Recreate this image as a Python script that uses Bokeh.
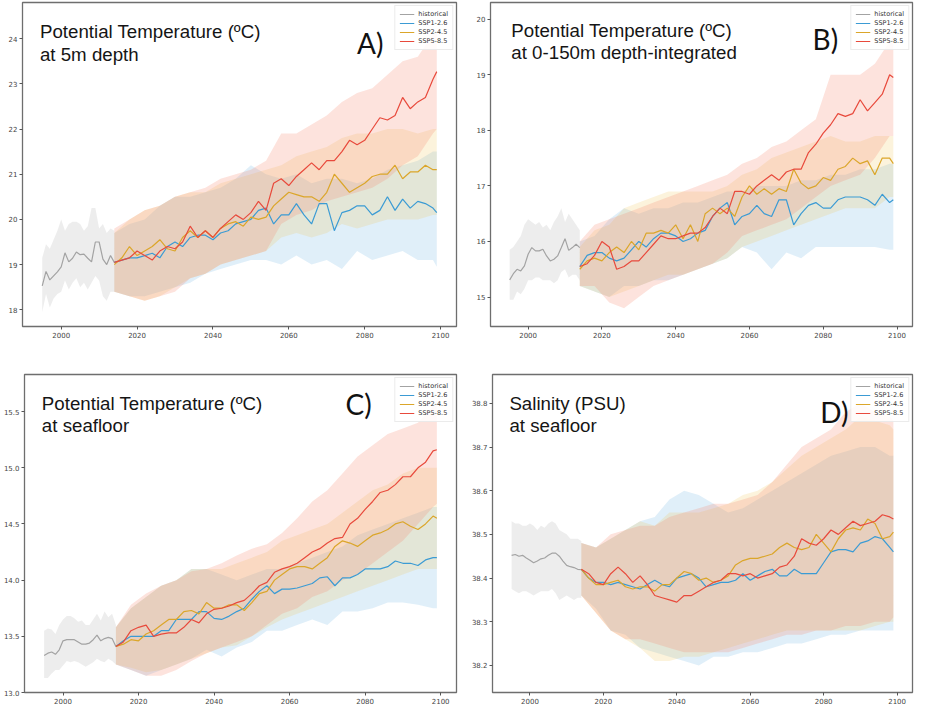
from bokeh.plotting import figure
from bokeh.models import Range1d, FixedTicker, Label, Legend, LegendItem, NumeralTickFormatter
from bokeh.layouts import column, row
from bokeh.embed import file_html
from bokeh.resources import INLINE

# ---------------- data ----------------
YEARS_HIST = list(range(1995, 2015))
YEARS_LINE = list(range(2014, 2099, 2)) + [2099]
YEARS_BAND = list(range(2014, 2099, 4)) + [2099]
X_TICKS = [2000, 2020, 2040, 2060, 2080, 2100]
SCENARIOS = ["SSP1-2.6", "SSP2-4.5", "SSP5-8.5"]

# Panel A: potential temperature at 5 m
A_hist = [18.53, 18.85, 18.66, 18.75, 18.84, 18.95, 19.26, 19.06, 19.14, 19.28, 19.22, 19.23, 19.14, 19.06, 19.50, 19.50, 19.12, 19.00, 19.20, 19.05]
A_hist_lo = [17.95, 18.35, 18.05, 18.25, 18.35, 18.40, 18.65, 18.45, 18.60, 18.70, 18.50, 18.60, 18.45, 18.60, 18.75, 18.65, 18.30, 18.20, 18.40, 18.40]
A_hist_hi = [19.15, 19.45, 19.35, 19.55, 19.75, 20.00, 19.75, 19.90, 19.95, 19.95, 19.90, 19.75, 19.85, 20.25, 20.25, 19.80, 19.90, 19.70, 19.80, 19.75]
A_126 = [19.05, 19.10, 19.15, 19.15, 19.20, 19.25, 19.15, 19.40, 19.50, 19.40, 19.60, 19.65, 19.65, 19.55, 19.70, 19.75, 19.90, 19.95, 20.00, 20.20, 20.25, 19.90, 20.10, 20.10, 20.35, 20.10, 19.90, 20.35, 20.35, 19.75, 20.15, 20.20, 20.30, 20.30, 20.10, 20.20, 20.50, 20.20, 20.45, 20.25, 20.40, 20.35, 20.25, 20.15]
A_245 = [19.00, 19.15, 19.40, 19.20, 19.30, 19.40, 19.55, 19.35, 19.30, 19.60, 19.75, 19.60, 19.75, 19.60, 19.80, 19.90, 19.95, 19.85, 20.05, 20.00, 20.05, 20.30, 20.45, 20.60, 20.55, 20.50, 20.50, 20.40, 20.60, 21.00, 20.80, 20.60, 20.70, 20.80, 20.95, 21.00, 21.00, 21.20, 20.90, 21.05, 21.05, 21.20, 21.10, 21.10]
A_585 = [19.05, 19.10, 19.15, 19.30, 19.20, 19.10, 19.30, 19.40, 19.35, 19.50, 19.85, 19.60, 19.75, 19.60, 19.80, 19.95, 20.10, 20.00, 20.15, 20.40, 20.20, 20.80, 20.90, 20.75, 20.95, 21.10, 21.25, 21.10, 21.30, 21.30, 21.50, 21.75, 21.65, 21.75, 22.00, 22.25, 22.20, 22.30, 22.70, 22.45, 22.60, 22.70, 23.10, 23.27]
A_126_lo = [18.40, 18.30, 18.30, 18.40, 18.50, 18.60, 18.80, 18.90, 19.00, 19.10, 19.10, 19.00, 19.20, 19.00, 19.10, 18.90, 19.30, 19.10, 19.20, 19.30, 19.10, 19.10, 18.95]
A_126_hi = [19.70, 19.90, 20.00, 20.30, 20.50, 20.50, 20.60, 20.70, 20.90, 21.20, 21.00, 20.90, 21.00, 20.80, 20.90, 20.90, 20.80, 20.90, 21.10, 21.20, 21.30, 21.50, 21.50]
A_245_lo = [18.40, 18.30, 18.20, 18.30, 18.50, 18.70, 18.80, 19.00, 19.10, 19.20, 19.30, 19.60, 19.70, 19.60, 19.70, 19.90, 19.80, 19.90, 20.00, 20.00, 20.00, 20.10, 20.10]
A_245_hi = [19.70, 20.00, 20.20, 20.30, 20.50, 20.60, 20.60, 20.80, 20.90, 21.00, 21.10, 21.20, 21.40, 21.50, 21.60, 21.80, 21.90, 21.90, 22.00, 22.00, 21.90, 22.00, 22.00]
A_585_lo = [18.40, 18.30, 18.20, 18.30, 18.40, 18.70, 18.80, 19.00, 19.10, 19.20, 19.30, 19.90, 20.10, 20.20, 20.40, 20.50, 20.60, 20.70, 20.90, 21.20, 21.40, 21.90, 22.00]
A_585_hi = [19.80, 20.00, 20.20, 20.30, 20.50, 20.60, 20.70, 20.90, 21.00, 21.10, 21.30, 21.90, 21.90, 22.10, 22.30, 22.60, 22.80, 22.90, 23.20, 23.50, 23.60, 24.10, 24.20]

# Panel B: potential temperature 0-150 m depth-integrated
B_hist = [15.31, 15.42, 15.50, 15.47, 15.56, 15.77, 15.89, 15.83, 15.83, 15.86, 15.74, 15.65, 15.68, 15.74, 15.89, 16.05, 15.84, 15.89, 15.95, 15.89]
B_hist_lo = [14.95, 14.95, 15.10, 15.05, 15.15, 15.30, 15.30, 15.35, 15.35, 15.30, 15.30, 15.30, 15.25, 15.30, 15.45, 15.50, 15.35, 15.40, 15.40, 15.30]
B_hist_hi = [15.85, 15.90, 16.00, 16.10, 16.30, 16.40, 16.35, 16.30, 16.35, 16.25, 16.30, 16.20, 16.35, 16.45, 16.60, 16.35, 16.50, 16.40, 16.30, 16.20]
B_126 = [15.55, 15.75, 15.80, 15.80, 15.70, 15.65, 15.70, 15.85, 16.00, 15.90, 16.05, 16.15, 16.15, 16.10, 16.00, 16.05, 16.15, 16.20, 16.45, 16.60, 16.70, 16.30, 16.45, 16.50, 16.65, 16.50, 16.45, 16.75, 16.75, 16.30, 16.50, 16.65, 16.70, 16.60, 16.60, 16.75, 16.80, 16.80, 16.80, 16.75, 16.65, 16.85, 16.70, 16.75]
B_245 = [15.50, 15.65, 15.70, 15.65, 15.80, 15.90, 15.80, 16.00, 15.85, 16.15, 16.15, 16.20, 16.15, 16.30, 16.05, 16.30, 16.00, 16.50, 16.60, 16.50, 16.60, 16.45, 16.80, 17.00, 16.85, 16.95, 16.85, 16.95, 16.90, 17.30, 17.05, 16.95, 17.00, 17.15, 17.10, 17.30, 17.35, 17.50, 17.40, 17.45, 17.20, 17.50, 17.50, 17.40]
B_585 = [15.55, 15.60, 15.75, 16.00, 15.90, 15.50, 15.55, 15.65, 15.65, 15.80, 15.95, 16.10, 16.05, 16.05, 16.10, 16.15, 16.15, 16.25, 16.45, 16.60, 16.50, 16.90, 16.90, 16.85, 17.00, 17.10, 17.20, 17.10, 17.25, 17.30, 17.30, 17.60, 17.75, 17.95, 18.10, 18.30, 18.25, 18.30, 18.55, 18.35, 18.50, 18.65, 19.00, 18.95]
B_126_lo = [15.20, 15.10, 15.00, 15.20, 15.20, 15.30, 15.30, 15.40, 15.50, 15.60, 15.70, 15.90, 15.80, 15.50, 15.80, 15.70, 15.90, 15.90, 15.90, 15.90, 15.90, 15.85, 15.85]
B_126_hi = [16.00, 16.10, 16.40, 16.60, 16.50, 16.60, 16.60, 16.70, 16.70, 16.80, 16.90, 16.90, 17.00, 17.00, 17.00, 17.10, 17.10, 17.20, 17.20, 17.30, 17.30, 17.40, 17.40]
B_245_lo = [15.20, 15.10, 15.00, 15.10, 15.20, 15.30, 15.40, 15.40, 15.50, 15.60, 15.70, 15.90, 16.00, 16.10, 16.20, 16.30, 16.40, 16.50, 16.60, 16.60, 16.60, 16.80, 16.80]
B_245_hi = [15.90, 16.20, 16.30, 16.60, 16.70, 16.80, 16.90, 16.90, 16.90, 16.90, 17.00, 17.20, 17.30, 17.50, 17.60, 17.70, 17.80, 17.90, 17.80, 17.80, 17.90, 17.90, 17.90]
B_585_lo = [15.20, 15.20, 14.90, 14.80, 15.00, 15.20, 15.30, 15.40, 15.50, 15.60, 15.80, 16.10, 16.20, 16.30, 16.40, 16.60, 16.80, 17.00, 17.10, 17.20, 17.50, 17.90, 17.90]
B_585_hi = [16.00, 16.30, 16.40, 16.50, 16.60, 16.70, 16.80, 16.90, 17.00, 17.10, 17.20, 17.40, 17.50, 17.70, 17.80, 18.00, 18.20, 19.00, 19.00, 19.00, 19.20, 19.60, 19.70]

# Panel C: potential temperature at seafloor
C_hist = [13.33, 13.35, 13.36, 13.34, 13.38, 13.46, 13.47, 13.47, 13.47, 13.45, 13.43, 13.43, 13.44, 13.47, 13.51, 13.46, 13.48, 13.49, 13.48, 13.41]
C_hist_lo = [13.13, 13.13, 13.17, 13.20, 13.20, 13.24, 13.28, 13.27, 13.28, 13.27, 13.25, 13.23, 13.25, 13.27, 13.30, 13.28, 13.27, 13.30, 13.28, 13.25]
C_hist_hi = [13.55, 13.57, 13.56, 13.52, 13.60, 13.65, 13.68, 13.68, 13.66, 13.63, 13.64, 13.60, 13.60, 13.65, 13.70, 13.64, 13.72, 13.67, 13.70, 13.60]
C_126 = [13.41, 13.46, 13.50, 13.50, 13.50, 13.50, 13.55, 13.55, 13.65, 13.65, 13.65, 13.72, 13.72, 13.66, 13.65, 13.68, 13.72, 13.75, 13.83, 13.90, 13.95, 13.88, 13.92, 13.92, 13.93, 13.95, 13.97, 14.02, 14.03, 13.95, 14.02, 14.02, 14.05, 14.10, 14.10, 14.10, 14.12, 14.17, 14.15, 14.15, 14.13, 14.18, 14.20, 14.20]
C_245 = [13.41, 13.43, 13.47, 13.46, 13.52, 13.55, 13.60, 13.65, 13.65, 13.72, 13.73, 13.70, 13.80, 13.75, 13.75, 13.78, 13.78, 13.73, 13.80, 13.88, 13.90, 14.00, 14.05, 14.10, 14.12, 14.12, 14.10, 14.15, 14.20, 14.30, 14.35, 14.33, 14.30, 14.35, 14.40, 14.42, 14.45, 14.50, 14.52, 14.48, 14.45, 14.50, 14.57, 14.55]
C_585 = [13.41, 13.45, 13.55, 13.58, 13.60, 13.50, 13.52, 13.53, 13.53, 13.58, 13.65, 13.62, 13.70, 13.74, 13.75, 13.77, 13.80, 13.82, 13.88, 13.95, 13.98, 14.07, 14.10, 14.12, 14.15, 14.20, 14.25, 14.28, 14.33, 14.37, 14.38, 14.50, 14.55, 14.63, 14.70, 14.78, 14.80, 14.85, 14.92, 14.92, 15.00, 15.05, 15.15, 15.16]
C_126_lo = [13.25, 13.20, 13.15, 13.20, 13.25, 13.30, 13.38, 13.32, 13.40, 13.45, 13.55, 13.55, 13.60, 13.65, 13.60, 13.72, 13.72, 13.75, 13.80, 13.80, 13.78, 13.75, 13.75]
C_126_hi = [13.58, 13.75, 13.85, 13.95, 14.00, 14.10, 14.10, 14.05, 14.00, 14.05, 14.10, 14.10, 14.15, 14.20, 14.25, 14.30, 14.40, 14.45, 14.50, 14.55, 14.60, 14.65, 14.65]
C_245_lo = [13.25, 13.22, 13.18, 13.20, 13.25, 13.30, 13.35, 13.40, 13.42, 13.50, 13.58, 13.65, 13.70, 13.75, 13.80, 13.85, 13.90, 13.95, 14.00, 14.05, 14.10, 14.10, 14.10]
C_245_hi = [13.58, 13.75, 13.85, 13.95, 14.00, 14.10, 14.10, 14.10, 14.15, 14.20, 14.25, 14.35, 14.40, 14.45, 14.50, 14.60, 14.70, 14.80, 14.85, 14.95, 15.00, 15.00, 15.00]
C_585_lo = [13.25, 13.20, 13.15, 13.15, 13.20, 13.28, 13.35, 13.40, 13.45, 13.50, 13.60, 13.70, 13.75, 13.85, 13.90, 14.00, 14.05, 14.15, 14.25, 14.35, 14.50, 14.65, 14.68]
C_585_hi = [13.58, 13.78, 13.88, 13.95, 14.00, 14.08, 14.10, 14.15, 14.22, 14.28, 14.32, 14.42, 14.55, 14.70, 14.80, 14.95, 15.10, 15.20, 15.30, 15.35, 15.40, 15.55, 15.60]

# Panel D: salinity at seafloor
D_hist = [38.452, 38.454, 38.450, 38.452, 38.446, 38.441, 38.435, 38.439, 38.444, 38.446, 38.452, 38.457, 38.457, 38.450, 38.439, 38.429, 38.426, 38.424, 38.420, 38.419]
D_hist_lo = [38.375, 38.370, 38.365, 38.370, 38.370, 38.365, 38.360, 38.365, 38.370, 38.370, 38.370, 38.375, 38.365, 38.350, 38.355, 38.360, 38.355, 38.350, 38.355, 38.355]
D_hist_hi = [38.530, 38.525, 38.525, 38.520, 38.520, 38.525, 38.520, 38.510, 38.520, 38.515, 38.525, 38.530, 38.525, 38.510, 38.505, 38.500, 38.490, 38.490, 38.490, 38.485]
D_126 = [38.420, 38.400, 38.390, 38.390, 38.385, 38.390, 38.385, 38.380, 38.375, 38.385, 38.395, 38.385, 38.380, 38.400, 38.405, 38.410, 38.400, 38.380, 38.385, 38.390, 38.390, 38.395, 38.410, 38.395, 38.405, 38.415, 38.420, 38.405, 38.405, 38.420, 38.410, 38.410, 38.410, 38.435, 38.460, 38.465, 38.465, 38.460, 38.480, 38.485, 38.495, 38.490, 38.470, 38.460]
D_245 = [38.420, 38.400, 38.385, 38.385, 38.390, 38.395, 38.380, 38.375, 38.380, 38.380, 38.370, 38.385, 38.385, 38.400, 38.415, 38.410, 38.395, 38.400, 38.390, 38.395, 38.405, 38.430, 38.440, 38.445, 38.445, 38.450, 38.455, 38.470, 38.480, 38.470, 38.465, 38.470, 38.500, 38.480, 38.460, 38.490, 38.510, 38.515, 38.510, 38.535, 38.525, 38.490, 38.495, 38.505]
D_585 = [38.420, 38.410, 38.390, 38.385, 38.410, 38.425, 38.410, 38.390, 38.405, 38.385, 38.360, 38.355, 38.350, 38.345, 38.360, 38.360, 38.370, 38.380, 38.390, 38.395, 38.410, 38.410, 38.405, 38.410, 38.400, 38.405, 38.410, 38.425, 38.430, 38.450, 38.490, 38.480, 38.475, 38.490, 38.510, 38.500, 38.515, 38.530, 38.520, 38.525, 38.530, 38.545, 38.540, 38.535]
D_126_lo = [38.36, 38.33, 38.28, 38.27, 38.24, 38.23, 38.22, 38.21, 38.20, 38.22, 38.22, 38.23, 38.23, 38.24, 38.25, 38.25, 38.26, 38.27, 38.27, 38.28, 38.28, 38.28, 38.28]
D_126_hi = [38.48, 38.47, 38.49, 38.51, 38.53, 38.54, 38.58, 38.60, 38.59, 38.57, 38.55, 38.56, 38.58, 38.60, 38.62, 38.64, 38.66, 38.68, 38.69, 38.70, 38.70, 38.68, 38.68]
D_245_lo = [38.36, 38.32, 38.28, 38.26, 38.24, 38.21, 38.21, 38.22, 38.22, 38.23, 38.24, 38.25, 38.26, 38.27, 38.28, 38.28, 38.28, 38.28, 38.28, 38.28, 38.29, 38.30, 38.30]
D_245_hi = [38.48, 38.47, 38.49, 38.51, 38.53, 38.52, 38.55, 38.55, 38.55, 38.56, 38.57, 38.59, 38.60, 38.62, 38.65, 38.68, 38.70, 38.72, 38.74, 38.77, 38.76, 38.75, 38.74]
D_585_lo = [38.36, 38.32, 38.28, 38.26, 38.26, 38.25, 38.24, 38.23, 38.23, 38.23, 38.23, 38.24, 38.25, 38.26, 38.27, 38.27, 38.28, 38.28, 38.29, 38.29, 38.30, 38.30, 38.31]
D_585_hi = [38.48, 38.47, 38.50, 38.51, 38.52, 38.52, 38.54, 38.55, 38.56, 38.57, 38.57, 38.58, 38.59, 38.62, 38.66, 38.70, 38.72, 38.74, 38.78, 38.80, 38.78, 38.77, 38.76]

TITLES_A = ["Potential Temperature (\u00baC)", "at 5m depth"]
TITLES_B = ["Potential Temperature (\u00baC)", "at 0-150m depth-integrated"]
TITLES_C = ["Potential Temperature (\u00baC)", "at seafloor"]
TITLES_D = ["Salinity (PSU)", "at seafloor"]

# ---------------- style ----------------
HIST_LINE, HIST_FILL = "#a3a3a3", "#d0d0d0"
LINE_COLORS = ["#3b9bd4", "#dba62a", "#e84a3c"]
FILL_COLORS = ["#62b0e2", "#eec552", "#f7866c"]
FILL_ALPHAS = [0.2, 0.2, 0.23]


def panel(hist, hist_lo, hist_hi, lines, bands, titles, letter, spec):
    p = figure(width=spec["w"], height=spec["h"],
               x_range=Range1d(1989.8, 2104.2), y_range=Range1d(*spec["ylim"]),
               output_backend="svg", toolbar_location=None,
               min_border_left=spec["bl"], min_border_right=spec["br"],
               min_border_top=spec["bt"], min_border_bottom=spec["bb"])
    p.xgrid.visible = False
    p.ygrid.visible = False
    p.background_fill_color = "white"
    p.border_fill_color = "white"
    p.outline_line_color = "#6e6e6e"
    p.outline_line_width = 1.3
    p.xaxis.ticker = FixedTicker(ticks=X_TICKS)
    p.yaxis.ticker = FixedTicker(ticks=spec["yticks"])
    if spec.get("yfmt"):
        p.yaxis.formatter = NumeralTickFormatter(format=spec["yfmt"])
    for ax in (p.xaxis[0], p.yaxis[0]):
        ax.axis_line_color = None
        ax.major_tick_line_color = "#555555"
        ax.major_tick_out = 3
        ax.major_tick_in = 0
        ax.minor_tick_line_color = None
        ax.major_label_text_font = "DejaVu Sans"
        ax.major_label_text_font_size = "7px"
        ax.major_label_text_color = "#444444"
        ax.major_label_standoff = 2

    p.varea(x=YEARS_HIST, y1=hist_lo, y2=hist_hi, fill_color=HIST_FILL, fill_alpha=0.38)
    for (lo, hi), fc, fa in zip(bands, FILL_COLORS, FILL_ALPHAS):
        p.varea(x=YEARS_BAND, y1=lo, y2=hi, fill_color=fc, fill_alpha=fa)
    r_hist = p.line(YEARS_HIST, hist, line_color=HIST_LINE, line_width=1.2)
    rends = [r_hist]
    for ys, lc in zip(lines, LINE_COLORS):
        rends.append(p.line(YEARS_LINE, ys, line_color=lc, line_width=1.2))

    tx, ty1, ty2 = spec["title_pos"]
    for txt, ty in zip(titles, (ty1, ty2)):
        p.add_layout(Label(x=tx, y=ty, text=txt, text_font="Liberation Sans",
                           text_font_size="18.7px", text_color="#151515",
                           text_baseline="alphabetic"))
    lx, ly = spec["letter_pos"]
    p.add_layout(Label(x=lx, y=ly, text=letter, text_font="Lato",
                       text_font_size="28px", text_color="#111111",
                       text_baseline="alphabetic"))

    items = [LegendItem(label=lab, renderers=[r]) for lab, r in
             zip(["historical"] + SCENARIOS, rends)]
    leg = Legend(items=items, location="top_right",
                 label_text_font="DejaVu Sans", label_text_font_size="6.5px",
                 label_text_color="#333333", glyph_width=15, glyph_height=8,
                 label_height=8, spacing=1, padding=4, margin=3,
                 label_standoff=4, border_line_color="#d8d8d8",
                 background_fill_alpha=0.85)
    p.add_layout(leg)
    return p


pA = panel(A_hist, A_hist_lo, A_hist_hi, [A_126, A_245, A_585],
           [(A_126_lo, A_126_hi), (A_245_lo, A_245_hi), (A_585_lo, A_585_hi)],
           TITLES_A, "A)",
           dict(w=468, h=354, bl=22, br=12, bt=2, bb=28, ylim=(17.63, 24.8),
                yticks=[18, 19, 20, 21, 22, 23, 24],
                title_pos=(1994.4, 24.15, 23.65), letter_pos=(2078.0, 23.91)))
pB = panel(B_hist, B_hist_lo, B_hist_hi, [B_126, B_245, B_585],
           [(B_126_lo, B_126_hi), (B_245_lo, B_245_hi), (B_585_lo, B_585_hi)],
           TITLES_B, "B)",
           dict(w=447, h=354, bl=22, br=3, bt=2, bb=28, ylim=(14.47, 20.3),
                yticks=[15, 16, 17, 18, 19, 20],
                title_pos=(1995.45, 19.80, 19.40), letter_pos=(2077.1, 19.64)))
pC = panel(C_hist, C_hist_lo, C_hist_hi, [C_126, C_245, C_585],
           [(C_126_lo, C_126_hi), (C_245_lo, C_245_hi), (C_585_lo, C_585_hi)],
           TITLES_C, "C)",
           dict(w=468, h=356, bl=22, br=12, bt=20, bb=18, ylim=(13.0, 15.83),
                yticks=[13.0, 13.5, 14.0, 14.5, 15.0, 15.5], yfmt="0.0",
                title_pos=(1994.4, 15.57, 15.38), letter_pos=(2074.8, 15.57)))
pD = panel(D_hist, D_hist_lo, D_hist_hi, [D_126, D_245, D_585],
           [(D_126_lo, D_126_hi), (D_245_lo, D_245_hi), (D_585_lo, D_585_hi)],
           TITLES_D, "D)",
           dict(w=447, h=356, bl=22, br=3, bt=20, bb=18, ylim=(38.138, 38.866),
                yticks=[38.2, 38.3, 38.4, 38.5, 38.6, 38.7, 38.8], yfmt="0.0",
                title_pos=(1994.4, 38.80, 38.75), letter_pos=(2079.1, 38.78)))

layout = column(row(pA, pB), row(pC, pD))
open("out.html", "w").write(file_html(layout, INLINE))
